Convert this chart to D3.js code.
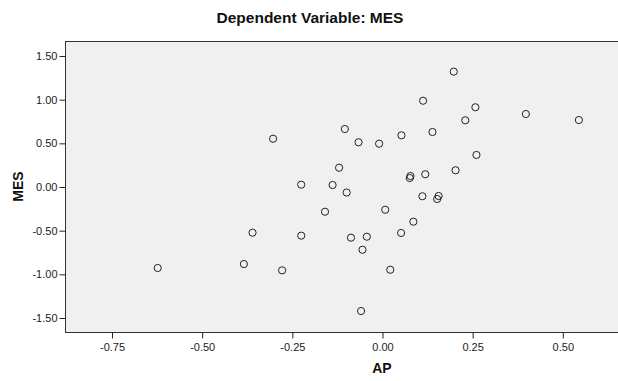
<!DOCTYPE html>
<html>
<head>
<meta charset="utf-8">
<script src="https://cdn.jsdelivr.net/npm/d3@7"></script>
<style>
	body { margin: 0; background: #fff; }
	svg text { font-family: "Liberation Sans", Arial, sans-serif; }
</style>
</head>
<body>
<svg id="chart" width="618" height="381"></svg>
<script>
// scatter of AP (x) against MES (y)
var apValues = [
	-0.622, -0.383, -0.359, -0.302, -0.277, -0.224, -0.224, -0.158, -0.137, -0.119,
	-0.103, -0.098, -0.086, -0.065, -0.058, -0.054, -0.042, -0.008, 0.009, 0.023,
	0.053, 0.054, 0.077, 0.079, 0.087, 0.112, 0.114, 0.120, 0.140, 0.153,
	0.157, 0.199, 0.204, 0.231, 0.259, 0.262, 0.399, 0.546
];
var mesValues = [
	-0.933, -0.888, -0.529, 0.547, -0.960, 0.021, -0.563, -0.289, 0.017, 0.215,
	0.658, -0.069, -0.586, 0.506, -1.426, -0.724, -0.575, 0.490, -0.266, -0.953,
	-0.532, 0.586, 0.097, 0.120, -0.403, -0.112, 0.982, 0.140, 0.624, -0.143,
	-0.109, 1.315, 0.186, 0.758, 0.907, 0.361, 0.830, 0.761
];
var xTicks = [-0.75, -0.50, -0.25, 0.00, 0.25, 0.50];
var yTicks = [1.50, 1.00, 0.50, 0.00, -0.50, -1.00, -1.50];

var titleText = 'Dependent Variable: MES';
var xLabel = 'AP';
var yLabel = 'MES';

var svg = d3.select('#chart');

var plot = { left: 65, top: 41, right: 620, bottom: 332 };

var x = d3.scaleLinear().domain([-0.879, 0.660]).range([plot.left, plot.right]);
var y = d3.scaleLinear().domain([-1.666, 1.666]).range([plot.bottom, plot.top]);

// SPSS prints a plain hyphen, not the unicode minus d3 uses
var fmt = function(d){ return d3.format('.2f')(d).replace('\u2212', '-'); };

// plot background and frame
svg.append('rect')
	.attr('x', plot.left + 0.5).attr('y', plot.top + 0.5)
	.attr('width', plot.right - plot.left).attr('height', plot.bottom - plot.top)
	.attr('fill', '#f0f0f0')
	.attr('stroke', '#333').attr('stroke-width', 1);

// axes
var xAxis = d3.axisBottom(x).tickValues(xTicks).tickSize(6).tickSizeOuter(0).tickFormat(fmt);
var yAxis = d3.axisLeft(y).tickValues(yTicks).tickSize(6).tickSizeOuter(0).tickFormat(fmt);

var gx = svg.append('g')
	.attr('transform', 'translate(0.5,' + (plot.bottom + 0.5) + ')')
	.call(xAxis);
var gy = svg.append('g')
	.attr('transform', 'translate(' + (plot.left + 0.5) + ',0.5)')
	.call(yAxis);

[gx, gy].forEach(function(g){
	g.select('.domain').remove();
	g.selectAll('line').attr('stroke', '#222');
	g.selectAll('text')
		.attr('fill', '#222')
		.style('font-size', '11px')
		.style('font-family', '"Liberation Sans", Arial, sans-serif');
});
gx.selectAll('text').attr('dy', '0.71em').attr('y', 11);
gy.selectAll('text').attr('x', -8);

// points
svg.append('g').selectAll('circle')
	.data(d3.range(apValues.length))
	.enter().append('circle')
	.attr('cx', function(i){ return x(apValues[i]); })
	.attr('cy', function(i){ return y(mesValues[i]); })
	.attr('r', 3.6)
	.attr('fill', 'none')
	.attr('stroke', '#222')
	.attr('stroke-width', 1);

// titles
svg.append('text')
	.attr('x', 310).attr('y', 23)
	.attr('text-anchor', 'middle')
	.style('font-size', '15.5px').style('font-weight', 'bold')
	.attr('fill', '#111')
	.text(titleText);

svg.append('text')
	.attr('x', x(0)).attr('y', 373)
	.attr('text-anchor', 'middle')
	.style('font-size', '14px').style('font-weight', 'bold')
	.attr('fill', '#111')
	.text(xLabel);

svg.append('text')
	.attr('transform', 'translate(23,' + y(0) + ') rotate(-90)')
	.attr('text-anchor', 'middle')
	.style('font-size', '14px').style('font-weight', 'bold')
	.attr('fill', '#111')
	.text(yLabel);
</script>
</body>
</html>
